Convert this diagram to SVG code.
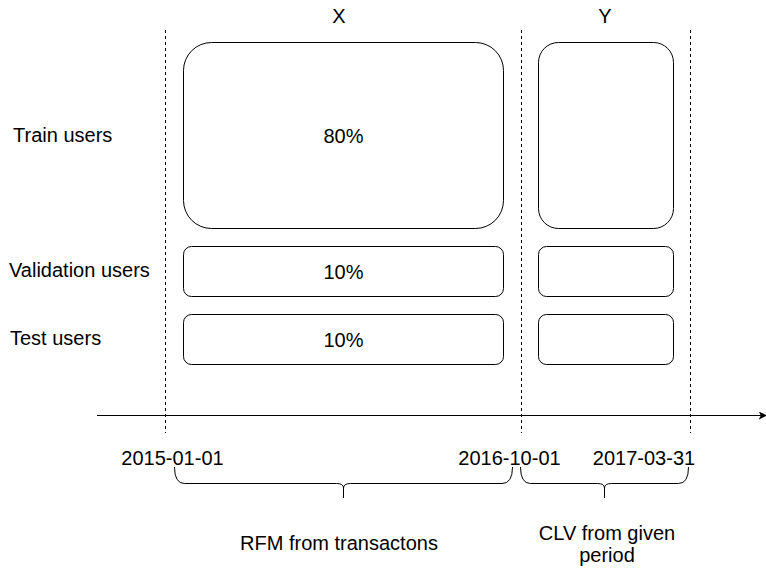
<svg xmlns="http://www.w3.org/2000/svg" width="766" height="569" viewBox="0 0 766 569">
  <style>
    .box { fill: #ffffff; stroke: #000000; stroke-width: 1; }
    .guide { fill: none; stroke: #000000; stroke-width: 1; stroke-dasharray: 3 3; }
    .line { fill: none; stroke: #000000; stroke-width: 1; }
    .brace { fill: none; stroke: #000000; stroke-width: 1; }
    text { font-family: "Liberation Sans", Arial, Helvetica, sans-serif; font-size: 20px; fill: #000000; }
    .mid { text-anchor: middle; }
  </style>
  <defs>
    <marker id="arrow" viewBox="0 0 10 10" refX="9" refY="5" markerWidth="8" markerHeight="8" markerUnits="userSpaceOnUse" orient="auto">
      <path d="M0,0 L10,5 L0,10 L2.5,5 Z" fill="#000000"/>
    </marker>
  </defs>

  <!-- period headers -->
  <g id="header-x"><text class="mid" x="339" y="23">X</text></g>
  <g id="header-y"><text class="mid" x="605" y="23">Y</text></g>

  <!-- row labels -->
  <g id="label-train"><text x="13" y="142">Train users</text></g>
  <g id="label-validation"><text x="9" y="277">Validation users</text></g>
  <g id="label-test"><text x="10" y="345">Test users</text></g>

  <!-- timeline guides and axis -->
  <g id="connectors">
    <line class="guide" x1="165.5" y1="30" x2="165.5" y2="433"/>
    <line class="guide" x1="521.5" y1="30" x2="521.5" y2="433"/>
    <line class="guide" x1="690.5" y1="30" x2="690.5" y2="433"/>
    <line class="line" x1="97" y1="415.5" x2="766" y2="415.5" marker-end="url(#arrow)"/>
  </g>

  <!-- X period blocks -->
  <g id="train-x">
    <rect class="box" x="183.5" y="42.5" width="320" height="186" rx="28" ry="28"/>
    <text class="mid" x="343.5" y="143">80%</text>
  </g>
  <g id="validation-x">
    <rect class="box" x="183.5" y="246.5" width="320" height="50" rx="8" ry="8"/>
    <text class="mid" x="343.5" y="278.5">10%</text>
  </g>
  <g id="test-x">
    <rect class="box" x="183.5" y="314.5" width="320" height="50" rx="8" ry="8"/>
    <text class="mid" x="343.5" y="346.5">10%</text>
  </g>

  <!-- Y period blocks -->
  <g id="train-y">
    <rect class="box" x="538.5" y="42.5" width="135" height="186" rx="20" ry="20"/>
  </g>
  <g id="validation-y">
    <rect class="box" x="538.5" y="246.5" width="135" height="50" rx="8" ry="8"/>
  </g>
  <g id="test-y">
    <rect class="box" x="538.5" y="314.5" width="135" height="50" rx="8" ry="8"/>
  </g>

  <!-- dates -->
  <g id="date-start"><text class="mid" x="172.5" y="465">2015-01-01</text></g>
  <g id="date-split"><text class="mid" x="509.5" y="465">2016-10-01</text></g>
  <g id="date-end"><text class="mid" x="644" y="465">2017-03-31</text></g>

  <!-- braces under the periods -->
  <g id="brace-x">
    <path class="brace" d="M174.5,467 Q174.5,483.5 184.5,483.5 L336.5,483.5 Q343.5,483.5 343.5,488 L343.5,498 M343.5,488 Q343.5,483.5 350.5,483.5 L502,483.5 Q512.5,483.5 512.5,467"/>
    <text class="mid" x="339" y="550">RFM from transactons</text>
  </g>
  <g id="brace-y">
    <path class="brace" d="M520.5,467 Q520.5,483.5 530.5,483.5 L597.5,483.5 Q604.5,483.5 604.5,488 L604.5,498 M604.5,488 Q604.5,483.5 611.5,483.5 L678.5,483.5 Q688.5,483.5 688.5,467"/>
    <text class="mid" x="607" y="540">CLV from given</text>
    <text class="mid" x="607" y="562">period</text>
  </g>
</svg>
